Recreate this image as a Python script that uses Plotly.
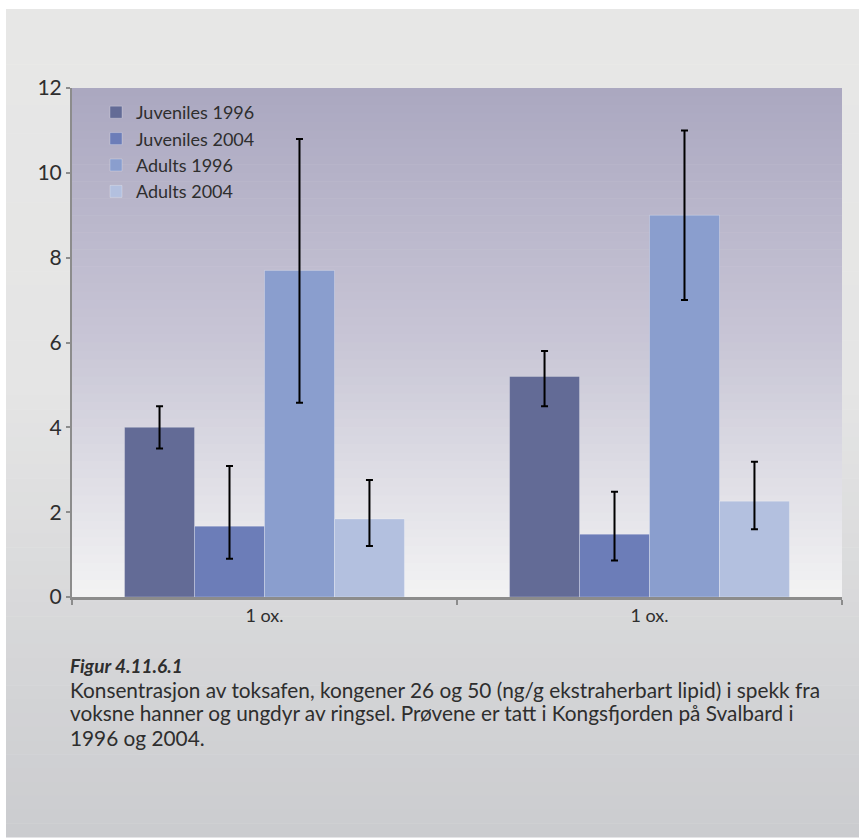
import plotly.graph_objects as go

# ---- data ----
group_positions = [0, 1]
group_labels = ["1 ox.", "1 ox."]
series_names = ["Juveniles 1996", "Juveniles 2004", "Adults 1996", "Adults 2004"]
juv_1996 = [4.0, 5.2]
juv_1996_hi = [4.5, 5.8]
juv_1996_lo = [3.5, 4.5]
juv_2004 = [1.67, 1.48]
juv_2004_hi = [3.09, 2.48]
juv_2004_lo = [0.9, 0.86]
adu_1996 = [7.7, 9.0]
adu_1996_hi = [10.8, 11.0]
adu_1996_lo = [4.58, 7.0]
adu_2004 = [1.84, 2.26]
adu_2004_hi = [2.76, 3.19]
adu_2004_lo = [1.2, 1.6]
y_ticks = [0, 2, 4, 6, 8, 10, 12]
caption_title = "Figur 4.11.6.1"
caption_lines = [
    "Konsentrasjon av toksafen, kongener 26 og 50 (ng/g ekstraherbart lipid) i spekk fra",
    "voksne hanner og ungdyr av ringsel. Prøvene er tatt i Kongsfjorden på Svalbard i",
    "1996 og 2004.",
]

colors = ["#636b96", "#6c7db8", "#8a9ece", "#b3c0df"]
series = [
    (juv_1996, juv_1996_hi, juv_1996_lo),
    (juv_2004, juv_2004_hi, juv_2004_lo),
    (adu_1996, adu_1996_hi, adu_1996_lo),
    (adu_2004, adu_2004_hi, adu_2004_lo),
]

FONT = "Lato"
TXT = "#2e2e2e"

fig = go.Figure()
for name, col, (v, hi, lo) in zip(series_names, colors, series):
    fig.add_trace(go.Bar(
        x=group_positions, y=v, name=name,
        marker=dict(color=col, line=dict(color="rgba(255,255,255,0.25)", width=1)),
        error_y=dict(type="data", symmetric=False,
                     array=[h - a for h, a in zip(hi, v)],
                     arrayminus=[a - l for l, a in zip(lo, v)],
                     color="black", thickness=2, width=3.5),
    ))

# ---- layout geometry (pixels) ----
W, H = 859, 838
L, R, T, B = 72, 17, 88, 241
pw, ph = W - L - R, H - T - B

def px_x(px):
    return (px - L) / pw

def px_y(py):
    return (H - B - py) / ph

def lerp(c1, c2, t):
    return tuple(round(a + (b - a) * t) for a, b in zip(c1, c2))

shapes = []
# outer panel gradient
p_top, p_mid, p_bot = (231, 231, 230), (229, 229, 229), (203, 204, 207)
y0p, y1p = 9, 837
n = 60
for i in range(n):
    a = y0p + (y1p - y0p) * i / n
    b = y0p + (y1p - y0p) * (i + 1) / n
    t = (i + 0.5) / n
    if t < 0.45:
        c = lerp(p_top, p_mid, t / 0.45)
    else:
        c = lerp(p_mid, p_bot, (t - 0.45) / 0.55)
    shapes.append(dict(type="rect", xref="paper", yref="paper",
                       x0=px_x(6), x1=px_x(859), y0=px_y(b) - 0.001, y1=px_y(a),
                       fillcolor="rgb(%d,%d,%d)" % c, line=dict(width=0), layer="below"))
# plot area gradient
g_top, g_mid, g_bot = (171, 167, 192), (200, 198, 214), (243, 243, 243)
n = 60
for i in range(n):
    t = (i + 0.5) / n
    if t < 0.5:
        c = lerp(g_top, g_mid, t / 0.5)
    else:
        c = lerp(g_mid, g_bot, (t - 0.5) / 0.5)
    shapes.append(dict(type="rect", xref="paper", yref="paper",
                       x0=0, x1=1, y0=1 - (i + 1) / n - 0.001, y1=1 - i / n,
                       fillcolor="rgb(%d,%d,%d)" % c, line=dict(width=0), layer="below"))

annotations = [
    dict(text="<b><i>%s</i></b>" % caption_title, xref="paper", yref="paper",
         x=px_x(68), y=px_y(665), xanchor="left", yanchor="middle", showarrow=False,
         font=dict(size=19, color=TXT, family=FONT), align="left"),
]
for k, line in enumerate(caption_lines):
    annotations.append(dict(text=line, xref="paper", yref="paper",
                            x=px_x(68), y=px_y(689 + 24 * k), xanchor="left", yanchor="middle",
                            showarrow=False, font=dict(size=20.8, color=TXT, family=FONT),
                            align="left"))

fig.update_layout(
    width=W, height=H,
    margin=dict(l=L, r=R, t=T, b=B),
    paper_bgcolor="white", plot_bgcolor="rgba(0,0,0,0)",
    barmode="group", bargap=0.273, bargroupgap=0,
    font=dict(family=FONT, color=TXT),
    shapes=shapes,
    showlegend=True,
    legend=dict(x=px_x(96), y=px_y(94), xanchor="left", yanchor="top",
                bgcolor="rgba(0,0,0,0)", font=dict(size=18, color=TXT),
                tracegroupgap=0, itemwidth=30),
    xaxis=dict(range=[-0.5, 1.5], tickvals=group_positions, ticktext=group_labels,
               ticks="", showline=True, linecolor="#8c8c8c", linewidth=3,
               showgrid=False, zeroline=False, fixedrange=True,
               tickfont=dict(size=18, color=TXT, family=FONT),
               minor=dict(tick0=0.5, dtick=1, ticks="outside", ticklen=5,
                          tickcolor="#8c8c8c", tickwidth=2, showgrid=False)),
    yaxis=dict(range=[0, 12], tickvals=y_ticks, ticks="outside", ticklen=4,
               tickcolor="#8c8c8c", tickwidth=2, showline=True, linecolor="#8c8c8c",
               linewidth=2, showgrid=False, zeroline=False,
               tickfont=dict(size=21, color=TXT, family=FONT)),
    annotations=annotations,
)

fig.write_html("out.html", config={"displayModeBar": False},
               post_script="document.body.style.margin='0';")
